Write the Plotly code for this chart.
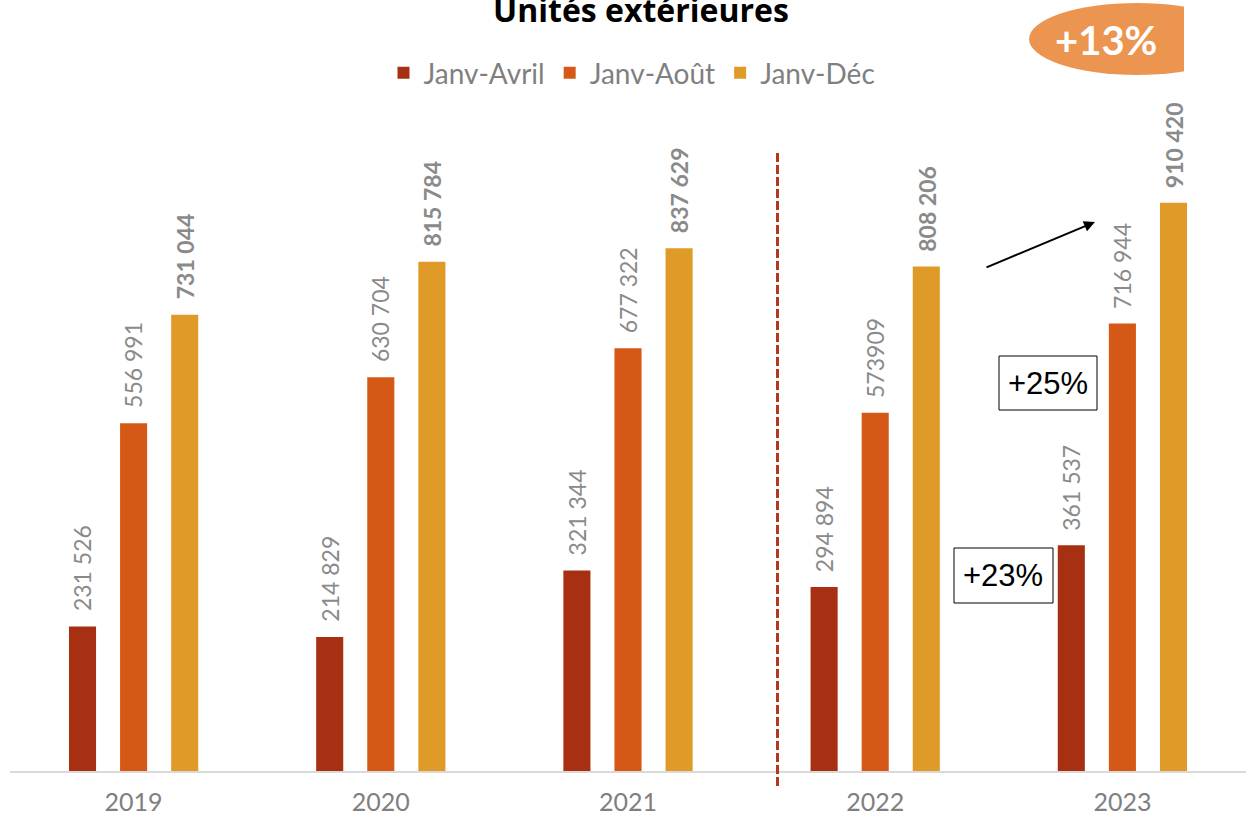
import plotly.graph_objects as go

years = ["2019", "2020", "2021", "2022", "2023"]
series_names = ["Janv-Avril", "Janv-Août", "Janv-Déc"]
janv_avril = [231526, 214829, 321344, 294894, 361537]
janv_aout = [556991, 630704, 677322, 573909, 716944]
janv_dec = [731044, 815784, 837629, 808206, 910420]
labels_avril = ["231 526", "214 829", "321 344", "294 894", "361 537"]
labels_aout = ["556 991", "630 704", "677 322", "573909", "716 944"]
labels_dec = ["731 044", "815 784", "837 629", "808 206", "910 420"]

colors = ["#A63011", "#D65817", "#E09A28"]
W, H = 1247, 816
PL, PR, PT, PB = 10, 1246, 100, 771
YMAX = 1075000


def px(x):
    return (x - PL) / (PR - PL)


def py(y):
    return (PB - y) / (PB - PT)


fig = go.Figure()
all_vals = [janv_avril, janv_aout, janv_dec]
all_labels = [labels_avril, labels_aout, labels_dec]
for name, vals, col in zip(series_names, all_vals, colors):
    fig.add_trace(go.Bar(x=years, y=vals, name=name, marker_color=col,
                         marker_line_width=0, hoverinfo="skip"))

annotations = []
offsets = [-51, 0, 51]
for si, (vals, labs) in enumerate(zip(all_vals, all_labels)):
    bold = si == 2
    for i, (v, lab) in enumerate(zip(vals, labs)):
        annotations.append(dict(
            x=i, y=v, xref="x", yref="y", text=f"<b>{lab}</b>" if bold else lab,
            textangle=-90, showarrow=False, xanchor="center", yanchor="bottom",
            xshift=offsets[si], yshift=13,
            font=dict(family="Lato", size=23, color="#8a8a8a")))

# title (partly cut at top)
annotations.append(dict(x=px(641), y=py(10), xref="paper", yref="paper",
                        text="<b>Unités extérieures</b>", showarrow=False,
                        xanchor="center", yanchor="middle",
                        font=dict(family="Open Sans", size=32, color="#000000")))
# arrow
annotations.append(dict(x=px(1095), y=py(222), xref="paper", yref="paper",
                        ax=985 - 1095, ay=268 - 222, axref="pixel", ayref="pixel",
                        text="", showarrow=True, arrowhead=2, arrowsize=1.1,
                        arrowwidth=2, arrowcolor="#000000"))
# boxed percentages
for txt, cx, cy in [("+25%", 1048, 383), ("+23%", 1003, 575)]:
    annotations.append(dict(x=px(cx), y=py(cy), xref="paper", yref="paper",
                            text=txt, showarrow=False, xanchor="center", yanchor="middle",
                            font=dict(family="Liberation Sans", size=31, color="#000000")))
# +13% ellipse text
annotations.append(dict(x=px(1106), y=py(40), xref="paper", yref="paper",
                        text="<b>+13%</b>", showarrow=False, xanchor="center", yanchor="middle",
                        font=dict(family="Lato", size=40, color="#FFFFFF")))

shapes = [
    dict(type="line", xref="paper", yref="paper", x0=px(777.5), x1=px(777.5),
         y0=py(153), y1=py(787), line=dict(color="#B5381A", width=3, dash="9px,3px")),
    dict(type="rect", xref="paper", yref="paper", x0=px(999), x1=px(1097),
         y0=py(410), y1=py(356), line=dict(color="#000000", width=1), fillcolor="rgba(0,0,0,0)"),
    dict(type="rect", xref="paper", yref="paper", x0=px(954), x1=px(1053),
         y0=py(603), y1=py(548), line=dict(color="#000000", width=1), fillcolor="rgba(0,0,0,0)"),
    dict(type="circle", xref="paper", yref="paper", x0=px(1029), x1=px(1245),
         y0=py(75), y1=py(3), line=dict(width=0), fillcolor="#EC9550", layer="below"),
    dict(type="rect", xref="paper", yref="paper", x0=px(1184), x1=px(1260),
         y0=py(80), y1=py(-5), line=dict(width=0), fillcolor="#FFFFFF", layer="below"),
]

fig.update_layout(
    width=W, height=H,
    margin=dict(l=PL, r=W - PR, t=PT, b=H - PB),
    paper_bgcolor="white", plot_bgcolor="white",
    barmode="group", bargap=0.38, bargroupgap=0.47,
    showlegend=True,
    legend=dict(orientation="h", x=px(632), y=py(73), xanchor="center", yanchor="middle",
                font=dict(family="Lato", size=28, color="#7f7f7f"), itemclick=False),
    xaxis=dict(type="category", range=[-0.5, 4.5], showgrid=False, showline=True,
               linecolor="#d9d9d9", linewidth=2, ticks="", automargin=False,
               tickfont=dict(family="Lato", size=25, color="#7f7f7f"),
               ticklabelstandoff=8),
    yaxis=dict(range=[0, YMAX], visible=False, showgrid=False, zeroline=False,
               automargin=False),
    annotations=annotations, shapes=shapes,
    font=dict(family="Lato"),
)

fig.write_html("out.html", config={"displayModeBar": False},
               post_script="document.body.style.margin='0';document.body.style.overflow='hidden';")
